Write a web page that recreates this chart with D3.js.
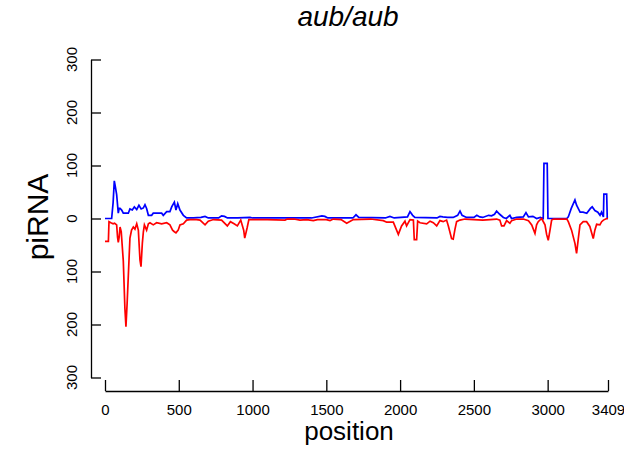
<!DOCTYPE html>
<html><head><meta charset="utf-8">
<script src="https://cdn.jsdelivr.net/npm/d3@7"></script>
<style>
body{margin:0;background:#fff;}
svg{display:block;font-family:"Liberation Sans",Arial,Helvetica,sans-serif;}
</style></head><body>
<svg id="c" width="624" height="451"></svg>
<script>
const title = "aub/aub";
const xLabel = "position";
const yLabel = "piRNA";
const xTicks = [0, 500, 1000, 1500, 2000, 2500, 3000, 3409];
const yTicks = [300, 200, 100, 0, -100, -200, -300];

// sense (blue) piRNA counts: [position, value]
const senseSeries = [
[0,0],[45,0],[55,30],[63,71],[70,60],[79,45],[90,10],[96,19],[102,19],[113,16],[124,10],[158,10],[169,18],[185,16],[199,22],[215,17],[230,25],[245,18],[260,20],[271,26],[282,19],[294,6],[316,6],[327,10],[384,10],[395,6],[418,13],[440,13],[452,22],[470,31],[481,16],[493,28],[508,16],[531,6],[553,1],[600,1],[650,2],[678,4],[700,1],[770,1],[790,5],[810,4],[830,1],[900,1],[983,2],[1000,1],[1200,1],[1400,1],[1470,5],[1490,4],[1510,1],[1680,1],[1701,7],[1720,2],[1900,1],[1931,4],[1960,1],[2050,3],[2067,13],[2085,6],[2100,2],[2250,1],[2270,4],[2290,3],[2320,2],[2360,2],[2390,6],[2406,14],[2420,6],[2450,2],[2500,2],[2520,6],[2540,3],[2560,2],[2600,6],[2620,5],[2640,8],[2654,14],[2675,8],[2700,2],[2720,0],[2744,6],[2755,0],[2790,2],[2835,3],[2853,11],[2870,3],[2900,4],[2925,0],[2950,2],[2970,0],[2975,104],[2997,104],[3002,0],[3130,0],[3140,3],[3160,19],[3185,35],[3196,25],[3220,12],[3240,12],[3265,10],[3290,19],[3302,22],[3320,15],[3340,12],[3355,6],[3365,12],[3378,3],[3381,46],[3400,46],[3404,0],[3409,0]
];

// antisense (red) piRNA counts: [position, value]
const antisenseSeries = [
[0,-43],[23,-43],[27,-6],[40,-8],[55,-10],[65,-9],[79,-12],[85,-35],[90,-45],[96,-35],[102,-16],[110,-25],[124,-80],[135,-170],[142,-204],[150,-160],[158,-108],[169,-37],[180,-22],[192,-16],[203,-20],[215,-10],[226,-22],[237,-78],[244,-91],[253,-47],[260,-25],[267,-12],[282,-22],[294,-10],[305,-8],[327,-12],[350,-8],[384,-10],[418,-8],[440,-12],[458,-22],[470,-25],[481,-27],[496,-22],[508,-12],[531,-10],[553,-3],[576,-2],[620,-2],[644,-3],[678,-12],[700,-5],[735,-2],[790,-3],[829,-14],[850,-6],[875,-10],[897,-14],[920,-3],[940,-22],[947,-37],[963,-18],[975,-2],[1100,-2],[1220,-3],[1235,-1],[1280,-1],[1321,-3],[1366,-2],[1412,-4],[1440,-2],[1500,-2],[1525,-4],[1547,-1],[1600,-2],[1638,-9],[1683,-2],[1800,-1],[1886,-4],[1909,-7],[1954,-7],[1988,-30],[2010,-14],[2033,-5],[2044,-14],[2067,-2],[2090,-3],[2096,-40],[2112,-40],[2119,-5],[2135,-8],[2180,-10],[2203,-5],[2225,-8],[2248,-14],[2270,-4],[2292,-6],[2315,-3],[2327,-14],[2349,-38],[2360,-39],[2372,-20],[2383,-6],[2405,-3],[2440,-1],[2500,-2],[2560,-3],[2610,-2],[2654,-1],[2676,-3],[2688,-14],[2704,-14],[2722,-4],[2744,-9],[2756,-4],[2790,-1],[2835,-1],[2870,-4],[2892,-12],[2914,-28],[2925,-12],[2936,-6],[2959,0],[2982,-12],[2993,-30],[3004,-41],[3016,-22],[3027,-3],[3040,-1],[3130,-1],[3140,-6],[3162,-22],[3185,-47],[3196,-66],[3207,-40],[3219,-12],[3241,-6],[3264,-6],[3286,-15],[3298,-27],[3309,-38],[3320,-22],[3332,-11],[3354,-12],[3366,-6],[3378,-3],[3400,0],[3409,0]
];

const svg = d3.select("#c");
const x = d3.scaleLinear().domain([0, 3409]).range([105, 608]);
const y = d3.scaleLinear().domain([-300, 300]).range([377.5, 59.5]);

// x axis
const xa = svg.append("g").attr("transform","translate(0,391)")
  .call(d3.axisBottom(x).tickValues(xTicks).tickFormat(d3.format("d"))
    .tickSizeInner(-11).tickSizeOuter(0).tickPadding(13));
xa.selectAll("path,line").attr("stroke","#000").attr("stroke-width",1.3);
xa.selectAll("text").attr("font-size",15).attr("fill","#000")
  .attr("font-family","'Liberation Sans',Arial,sans-serif");

// y axis
const ya = svg.append("g").attr("transform","translate(91,0)")
  .call(d3.axisLeft(y).tickValues(yTicks).tickFormat("")
    .tickSizeInner(-10).tickSizeOuter(0));
ya.selectAll("path,line").attr("stroke","#000").attr("stroke-width",1.3);
svg.append("g").selectAll("text").data(yTicks).join("text")
  .attr("transform", d => `translate(77,${y(d)}) rotate(-90)`)
  .attr("text-anchor","middle").attr("font-size",15).attr("fill","#000")
  .text(d => Math.abs(d));

const line = d3.line().x(d => x(d[0])).y(d => y(d[1]));
svg.append("path").datum(senseSeries).attr("d", line)
  .attr("fill","none").attr("stroke","#0000ff").attr("stroke-width",1.7);
svg.append("path").datum(antisenseSeries).attr("d", line)
  .attr("fill","none").attr("stroke","#ff0000").attr("stroke-width",1.7);

// labels
svg.append("text").attr("x",348).attr("y",26).attr("text-anchor","middle")
  .attr("font-size",28).attr("font-style","italic").text(title);
svg.append("text").attr("x",349).attr("y",440).attr("text-anchor","middle")
  .attr("font-size",26).text(xLabel);
svg.append("text").attr("transform","translate(48,217) rotate(-90)")
  .attr("text-anchor","middle").attr("font-size",30).text(yLabel);
</script>
</body></html>
